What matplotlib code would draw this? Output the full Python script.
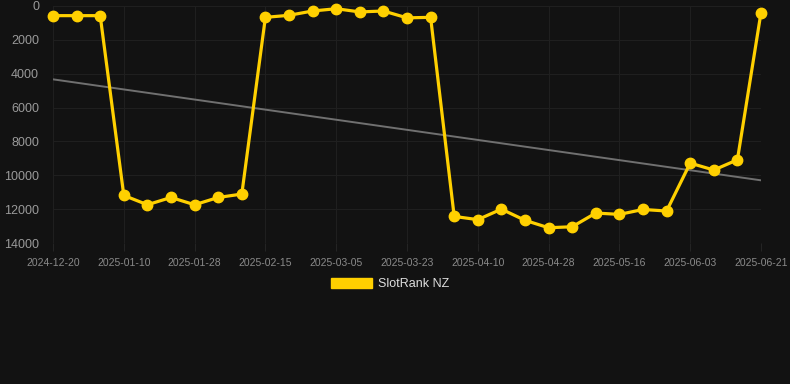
import matplotlib
matplotlib.use("Agg")
import matplotlib.pyplot as plt
import numpy as np
from matplotlib.patches import Patch

plt.rcParams["font.family"] = ["Liberation Sans", "DejaVu Sans"]

BG = "#121212"
GOLD = "#FFD000"

# SlotRank NZ position, one point every ~6 days
ranks = [
    570, 570, 570, 11190, 11740, 11310, 11740, 11310, 11110,
    670, 550, 295, 160, 350, 295, 700, 670,
    12430, 12620, 12000, 12660, 13100, 13040, 12230, 12310, 12020, 12110,
    9280, 9690, 9085, 390,
]
tick_labels = [
    "2024-12-20", "2025-01-10", "2025-01-28", "2025-02-15", "2025-03-05",
    "2025-03-23", "2025-04-10", "2025-04-28", "2025-05-16", "2025-06-03",
    "2025-06-21",
]
y_ticks = [0, 2000, 4000, 6000, 8000, 10000, 12000, 14000]

x = np.arange(len(ranks))
ranks = np.array(ranks)

fig = plt.figure(figsize=(7.9, 3.84), dpi=100, facecolor=BG)
ax = fig.add_axes([53 / 790, 1 - 243 / 384, 708 / 790, 237 / 384], facecolor=BG)

# trend line (least squares)
slope, icpt = np.polyfit(x, ranks, 1)
ax.plot(x, slope * x + icpt, color="#707070", lw=1.4, zorder=2)

ax.plot(x, ranks, color=GOLD, lw=2.3, marker="o", ms=7.5, zorder=3, clip_on=False)

ax.set_xlim(0, len(ranks) - 1)
ax.set_ylim(14000, 0)
ax.set_xticks(x[::3])
ax.set_xticklabels(tick_labels)
ax.set_yticks(y_ticks)

ax.grid(True, color="#1f1f1f", lw=0.8)
ax.set_axisbelow(True)
for s in ax.spines.values():
    s.set_visible(False)
ax.tick_params(axis="x", colors="#242424", labelcolor="#8a8a8a", labelsize=7.5, length=6, pad=5)
ax.tick_params(axis="y", length=0, labelcolor="#9a9a9a", labelsize=9, pad=10)

fig.legend(
    handles=[Patch(facecolor=GOLD, edgecolor=GOLD)],
    labels=["SlotRank NZ"],
    loc="center",
    bbox_to_anchor=(390 / 790, 1 - 284 / 384),
    frameon=False,
    fontsize=9,
    labelcolor="#dddddd",
    handlelength=3.3,
    handleheight=0.85,
    handletextpad=0.5,
)

fig.savefig("out.png", dpi=100, facecolor=BG)
